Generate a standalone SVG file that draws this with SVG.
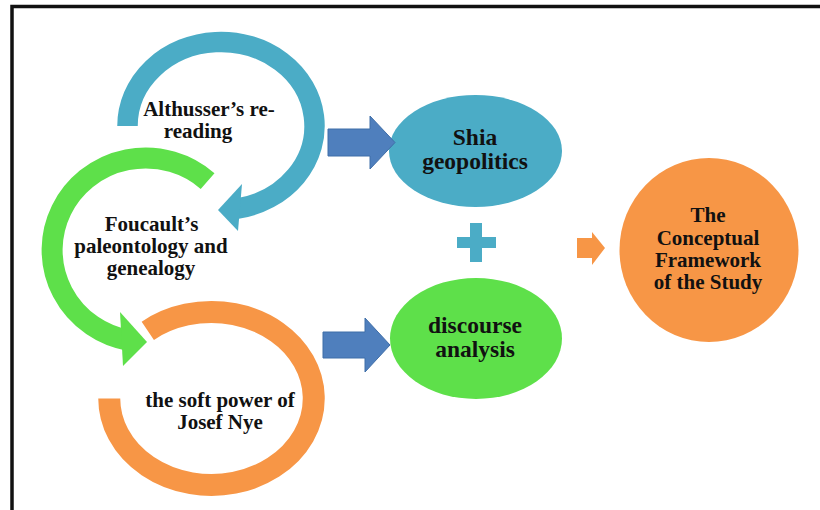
<svg xmlns="http://www.w3.org/2000/svg" width="820" height="510" viewBox="0 0 820 510">
  <style>
    .lbl { font-family: "Liberation Serif", "Times New Roman", serif; font-weight: bold; fill: #111; text-anchor: middle; }
    .s21 { font-size: 21px; }
    .s23 { font-size: 23.5px; }
    .ring { fill: none; stroke-linecap: butt; }
    .blue { fill: #4bacc6; }
    .green { fill: #5ee04a; }
    .orange { fill: #f79646; }
    .block { fill: #4f7fbd; stroke: #3f6ea8; stroke-width: 1; }
  </style>
  <rect x="0" y="0" width="820" height="510" fill="#ffffff"/>
  <path d="M12,510 V6.5 H820" fill="none" stroke="#111" stroke-width="3.5"/>

  <g id="althusser">
    <path class="ring" d="M127.5,126 A93.5,84 0 1 1 237.2,208.7" stroke="#4bacc6" stroke-width="20.5"/>
    <polygon class="blue" points="242,184 218,210 238,231"/>
    <text class="lbl s21" x="209" y="116">Althusser’s re-</text>
    <text class="lbl s21" x="198" y="138">reading</text>
  </g>

  <g id="foucault">
    <path class="ring" d="M207.6,181.1 A93.5,92 0 1 0 129.5,340.6" stroke="#5ee04a" stroke-width="21"/>
    <polygon class="green" points="120,312 147,342 123,366"/>
    <text class="lbl s21" x="151.5" y="231">Foucault’s</text>
    <text class="lbl s21" x="151" y="253">paleontology and</text>
    <text class="lbl s21" x="151" y="275">genealogy</text>
  </g>

  <g id="nye">
    <path class="ring" d="M147.8,330.8 A102.25,86.5 0 1 1 109.25,398.5" stroke="#f79646" stroke-width="22"/>
    <text class="lbl s21" x="220" y="407">the soft power of</text>
    <text class="lbl s21" x="220" y="429">Josef Nye</text>
  </g>

  <g id="shia">
    <ellipse class="blue" cx="475.5" cy="151" rx="86.5" ry="56"/>
    <text class="lbl s23" x="475" y="145">Shia</text>
    <text class="lbl s23" x="475" y="169">geopolitics</text>
  </g>

  <g id="discourse">
    <ellipse class="green" cx="476" cy="338.5" rx="86" ry="60.5"/>
    <text class="lbl s23" x="475" y="333">discourse</text>
    <text class="lbl s23" x="475" y="357">analysis</text>
  </g>

  <g id="framework">
    <ellipse class="orange" cx="709" cy="250" rx="89.5" ry="92"/>
    <text class="lbl s21" x="708" y="222">The</text>
    <text class="lbl s21" x="708" y="245">Conceptual</text>
    <text class="lbl s21" x="708" y="267">Framework</text>
    <text class="lbl s21" x="708" y="289">of the Study</text>
  </g>

  <g id="plus">
    <rect class="blue" x="470" y="223" width="12" height="39"/>
    <rect class="blue" x="457" y="237" width="39" height="11"/>
  </g>

  <g id="connectors">
    <polygon class="block" points="328,129 370,129 370,116 395,142.5 370,169 370,156 328,156"/>
    <polygon class="block" points="323,332 365,332 365,318 390,345 365,372 365,358 323,358"/>
    <polygon class="orange" points="577,238 592,238 592,232 605,248 592,265 592,258 577,258"/>
  </g>
</svg>
